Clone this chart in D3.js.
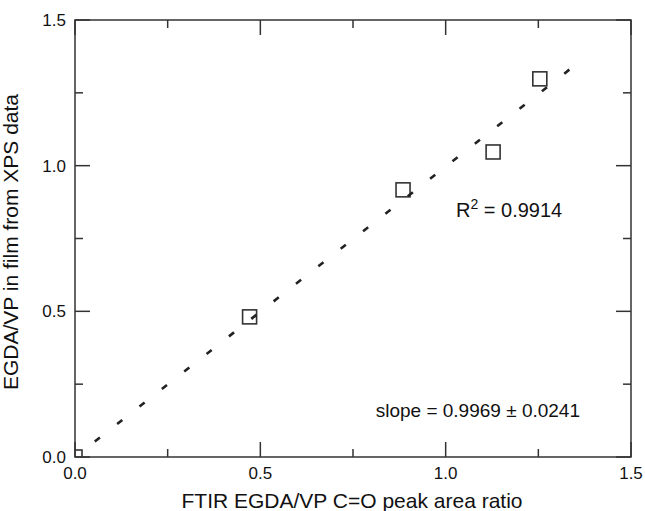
<!DOCTYPE html>
<html>
<head>
<meta charset="utf-8"/>
<script src="https://d3js.org/d3.v7.min.js"></script>
<style>
    body { margin: 0; background: #ffffff; }
    svg { display: block; font-family: "Liberation Sans", Arial, sans-serif; }
    .tick-label { font-size: 17px; fill: #111; }
</style>
</head>
<body>
<svg id="chart" width="645" height="511"></svg>
<script>

// data
var ftirRatio = [0.0, 0.471, 0.885, 1.128, 1.254];
var xpsRatio  = [0.0, 0.481, 0.917, 1.047, 1.298];
var fitSlope = 0.9969;
var fitRange = [0.01, 1.34];
var majorTicks = [0, 0.5, 1.0, 1.5];
var minorTicks = [0.25, 0.75, 1.25];
var xTitle = "FTIR EGDA/VP C=O peak area ratio";
var yTitle = "EGDA/VP in film from XPS data";

var svg = d3.select("#chart");
var mLeft = 75, mTop = 20, w = 556, h = 437;

var x = d3.scaleLinear().domain([0, 1.5]).range([mLeft, mLeft + w]);
var y = d3.scaleLinear().domain([0, 1.5]).range([mTop + h, mTop]);

var ink = "#333";

svg.append("clipPath").attr("id", "plotclip")
    .append("rect").attr("x", mLeft).attr("y", mTop).attr("width", w).attr("height", h);

// data squares
svg.append("g").attr("clip-path", "url(#plotclip)")
    .selectAll("rect").data(ftirRatio).enter().append("rect")
    .attr("x", function(d) { return x(d) - 7; })
    .attr("y", function(d, i) { return y(xpsRatio[i]) - 7; })
    .attr("width", 14).attr("height", 14)
    .attr("fill", "none").attr("stroke", ink).attr("stroke-width", 1.6);

// fit line, dashed
var p0 = [x(fitRange[0]), y(fitSlope * fitRange[0])];
var s0 = Math.hypot(p0[0] - x(0), p0[1] - y(0));
svg.append("line")
    .attr("x1", p0[0]).attr("y1", p0[1])
    .attr("x2", x(fitRange[1])).attr("y2", y(fitSlope * fitRange[1]))
    .attr("stroke", "#222").attr("stroke-width", 2.6)
    .attr("stroke-dasharray", "6.5,21.9")
    .attr("stroke-dashoffset", s0 + 3.25);

// frame
svg.append("rect").attr("x", mLeft).attr("y", mTop).attr("width", w).attr("height", h)
    .attr("fill", "none").attr("stroke", ink).attr("stroke-width", 1.5);

// inward ticks on all four sides
var ticks = svg.append("g").attr("stroke", ink).attr("stroke-width", 1.5);
function addTicks(vals, len) {
    vals.forEach(function(v) {
        ticks.append("line").attr("x1", x(v)).attr("x2", x(v)).attr("y1", mTop + h).attr("y2", mTop + h - len);
        ticks.append("line").attr("x1", x(v)).attr("x2", x(v)).attr("y1", mTop).attr("y2", mTop + len);
        ticks.append("line").attr("y1", y(v)).attr("y2", y(v)).attr("x1", mLeft).attr("x2", mLeft + len);
        ticks.append("line").attr("y1", y(v)).attr("y2", y(v)).attr("x1", mLeft + w).attr("x2", mLeft + w - len);
    });
}
addTicks(majorTicks, 15);
addTicks(minorTicks, 8);

// tick labels
svg.selectAll("text.xl").data(majorTicks).enter().append("text")
    .attr("class", "tick-label xl").attr("text-anchor", "middle")
    .attr("x", function(d) { return x(d); }).attr("y", mTop + h + 22)
    .text(function(d) { return d.toFixed(1); });
svg.selectAll("text.yl").data(majorTicks).enter().append("text")
    .attr("class", "tick-label yl").attr("text-anchor", "end")
    .attr("x", mLeft - 9).attr("y", function(d) { return y(d) + 6; })
    .text(function(d) { return d.toFixed(1); });

// axis titles
svg.append("text").attr("x", 352).attr("y", 508)
    .attr("text-anchor", "middle").attr("font-size", "21px").attr("fill", "#111")
    .text(xTitle);
svg.append("text").attr("transform", "translate(18, 242) rotate(-90)")
    .attr("text-anchor", "middle").attr("font-size", "21px").attr("fill", "#111")
    .text(yTitle);

// annotations
var r2 = svg.append("text").attr("x", 456).attr("y", 217)
    .attr("font-size", "20px").attr("fill", "#111");
r2.append("tspan").text("R");
r2.append("tspan").attr("dy", -8).attr("font-size", "14px").text("2");
r2.append("tspan").attr("dy", 8).text(" = 0.9914");

svg.append("text").attr("x", 580).attr("y", 417)
    .attr("text-anchor", "end")
    .attr("font-size", "19px").attr("fill", "#111")
    .text("slope = 0.9969 \u00b1 0.0241");

</script>
</body>
</html>
